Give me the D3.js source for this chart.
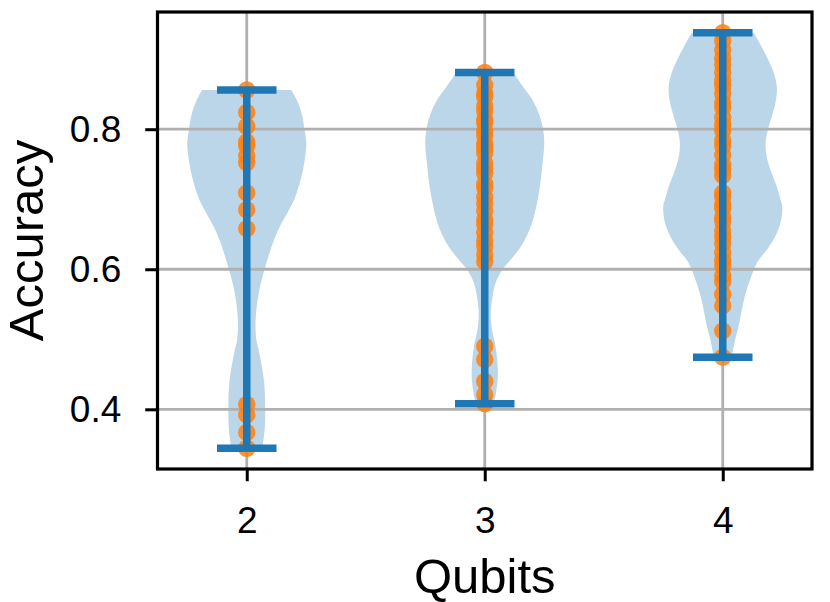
<!DOCTYPE html>
<html>
<head>
<meta charset="utf-8">
<script src="https://cdn.jsdelivr.net/npm/d3@7"></script>
<style>
  html, body { margin: 0; padding: 0; background: #fff; }
  svg { display: block; }
  text { font-family: "Liberation Sans", Arial, sans-serif; fill: #000; }
</style>
</head>
<body>
<svg id="chart" width="830" height="602"></svg>
<script>
// ---------- data ----------
const qubits = [2, 3, 4];
const yTicks = [0.4, 0.6, 0.8];

// individual accuracies (scatter points)
const points2 = [0.856, 0.824, 0.804, 0.782, 0.776, 0.762, 0.752, 0.709, 0.685, 0.658,
                 0.407, 0.392, 0.367, 0.3444];
const points3 = [0.881, 0.863, 0.851, 0.846, 0.833, 0.826, 0.814, 0.809, 0.797, 0.791,
                 0.779, 0.774, 0.766, 0.751, 0.744, 0.737, 0.722, 0.716, 0.703, 0.694,
                 0.683, 0.671, 0.664, 0.652, 0.641, 0.633, 0.621, 0.611,
                 0.490, 0.471, 0.440, 0.421, 0.408];
const points4 = [0.9377, 0.926, 0.913, 0.901, 0.892, 0.881, 0.869, 0.862, 0.851, 0.838,
                 0.831, 0.817, 0.806, 0.798, 0.784, 0.776, 0.763, 0.749, 0.742, 0.734,
                 0.709, 0.703, 0.692, 0.687, 0.674, 0.668, 0.655, 0.646, 0.637, 0.624,
                 0.613, 0.605, 0.591, 0.582, 0.564, 0.548, 0.512, 0.4745];

// violin outlines: accuracy level and relative density (1 = widest)
const levels2  = [0.856, 0.84, 0.82, 0.80, 0.78, 0.76, 0.74, 0.72, 0.70, 0.68, 0.66, 0.64, 0.628,
                  0.60, 0.57, 0.53, 0.50, 0.485, 0.44, 0.40, 0.37, 0.3444];
const density2 = [0.75, 0.85, 0.93, 0.97, 1.0, 0.98, 0.94, 0.88, 0.80, 0.68, 0.55, 0.45, 0.40,
                  0.30, 0.21, 0.15, 0.16, 0.20, 0.29, 0.31, 0.30, 0.26];
const levels3  = [0.881, 0.86, 0.842, 0.82, 0.80, 0.78, 0.75, 0.72, 0.70, 0.68, 0.66, 0.64, 0.628,
                  0.61, 0.60, 0.58, 0.555, 0.533, 0.51, 0.495, 0.47, 0.447, 0.43, 0.419, 0.408];
const density3 = [0.48, 0.65, 0.80, 0.92, 0.98, 1.0, 0.97, 0.93, 0.89, 0.84, 0.77, 0.66, 0.57,
                  0.40, 0.30, 0.18, 0.12, 0.10, 0.13, 0.17, 0.21, 0.22, 0.20, 0.18, 0.15];
const levels4  = [0.9377, 0.92, 0.90, 0.88, 0.86, 0.84, 0.82, 0.80, 0.78, 0.76, 0.74, 0.72, 0.70,
                  0.69, 0.67, 0.65, 0.63, 0.61, 0.59, 0.57, 0.55, 0.52, 0.50, 0.4745];
const density4 = [0.52, 0.64, 0.76, 0.86, 0.91, 0.89, 0.83, 0.76, 0.72, 0.74, 0.81, 0.90, 0.97,
                  1.0, 0.98, 0.90, 0.76, 0.58, 0.48, 0.40, 0.34, 0.27, 0.21, 0.15];

const groups = [
  { q: qubits[0], pts: points2, levels: levels2, dens: density2 },
  { q: qubits[1], pts: points3, levels: levels3, dens: density3 },
  { q: qubits[2], pts: points4, levels: levels4, dens: density4 }
];

// ---------- layout ----------
const svg = d3.select("#chart");
const L = 157.5, R = 812, T = 12, B = 469;
const violinHalf = 0.25, capHalf = 0.125;

const x = d3.scaleLinear()
  .domain([d3.min(qubits) - violinHalf - 0.125, d3.max(qubits) + violinHalf + 0.125])
  .range([L, R]);

const allPts = groups.flatMap(g => g.pts);
const lo = d3.min(allPts), hi = d3.max(allPts), span = hi - lo;
const y = d3.scaleLinear().domain([lo - 0.05 * span, hi + 0.05 * span]).range([B, T]);

const w = d3.scaleLinear().domain([0, 1]).range([0, x(qubits[0] + violinHalf) - x(qubits[0])]);

const blue = "#1f77b4", orange = "#ff7f0e";

// ---------- violins ----------
groups.forEach(g => {
  const prof = g.levels.map((v, i) => ({ v, d: g.dens[i] }));
  const area = d3.area()
    .y(d => y(d.v))
    .x0(d => x(g.q) - w(d.d))
    .x1(d => x(g.q) + w(d.d))
    .curve(d3.curveCatmullRom.alpha(0.5));
  svg.append("path").datum(prof)
    .attr("d", area)
    .attr("fill", blue).attr("fill-opacity", 0.3);
});

// ---------- grid ----------
const grid = svg.append("g").attr("stroke", "#b0b0b0").attr("stroke-width", 2.8);
qubits.forEach(q => grid.append("line").attr("x1", x(q)).attr("x2", x(q)).attr("y1", T).attr("y2", B));
yTicks.forEach(t => grid.append("line").attr("x1", L).attr("x2", R).attr("y1", y(t)).attr("y2", y(t)));

// ---------- scatter ----------
groups.forEach(g => {
  svg.append("g").selectAll("circle").data(g.pts).join("circle")
    .attr("cx", x(g.q)).attr("cy", d => y(d)).attr("r", 8.7)
    .attr("fill", orange).attr("fill-opacity", 0.85);
});

// ---------- violin lines (min/max caps, vertical bar) ----------
groups.forEach(g => {
  const mn = d3.min(g.pts), mx = d3.max(g.pts);
  const lg = svg.append("g").attr("stroke", blue).attr("stroke-width", 7.5);
  lg.append("line").attr("x1", x(g.q)).attr("x2", x(g.q)).attr("y1", y(mn)).attr("y2", y(mx));
  [mn, mx].forEach(v => lg.append("line")
    .attr("x1", x(g.q - capHalf)).attr("x2", x(g.q + capHalf))
    .attr("y1", y(v)).attr("y2", y(v)));
});

// ---------- axes ----------
const xAxis = svg.append("g").attr("transform", `translate(0,${B})`)
  .call(d3.axisBottom(x).tickValues(qubits).tickSize(12.25).tickPadding(12).tickFormat(d3.format("d")));
const yAxis = svg.append("g").attr("transform", `translate(${L},0)`)
  .call(d3.axisLeft(y).tickValues(yTicks).tickSize(12.25).tickPadding(24).tickFormat(d3.format(".1f")));
[xAxis, yAxis].forEach(a => {
  a.select(".domain").remove();
  a.selectAll(".tick line").attr("stroke", "#000").attr("stroke-width", 3);
  a.selectAll(".tick text").attr("font-size", 37).attr("font-family", "Liberation Sans, Arial, sans-serif");
});
xAxis.selectAll(".tick text").attr("dy", null).attr("y", 64);

// frame
svg.append("rect").attr("x", L).attr("y", T).attr("width", R - L).attr("height", B - T)
  .attr("fill", "none").attr("stroke", "#000").attr("stroke-width", 3.2);

// labels
svg.append("text").attr("x", (L + R) / 2).attr("y", 593)
  .attr("text-anchor", "middle").attr("font-size", 49).text("Qubits");
svg.append("text").attr("transform", `translate(43,${(T + B) / 2}) rotate(-90)`)
  .attr("text-anchor", "middle").attr("font-size", 49).text("Accuracy");
</script>
</body>
</html>
